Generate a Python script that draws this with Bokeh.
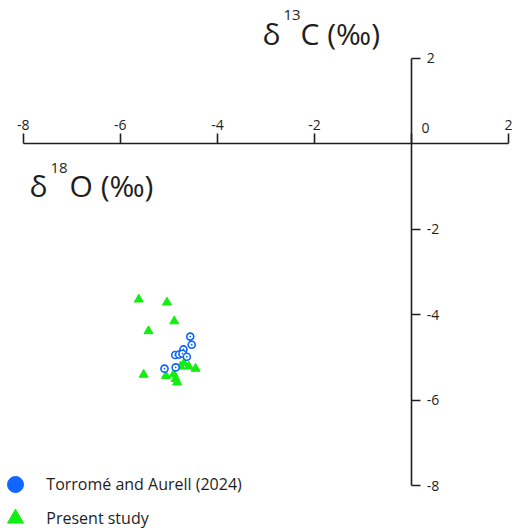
from bokeh.plotting import figure
from bokeh.models import LinearAxis, FixedTicker, Range1d, Label, Legend, LegendItem
from bokeh.embed import file_html
from bokeh.resources import INLINE

# ---- data ----
x_ticks = [-8, -6, -4, -2, 0, 2]
y_ticks = [2, -2, -4, -6, -8]

torrome_o = [-4.56, -4.53, -4.70, -4.87, -4.79, -4.72, -4.63, -5.09, -4.86]
torrome_c = [-4.51, -4.70, -4.81, -4.94, -4.93, -4.91, -4.98, -5.26, -5.23]

present_o = [-5.62, -5.04, -4.89, -5.42, -5.52, -5.06, -4.90, -4.86, -4.83, -4.69, -4.59, -4.45, -4.76]
present_c = [-3.64, -3.71, -4.15, -4.38, -5.40, -5.43, -5.39, -5.50, -5.58, -5.13, -5.21, -5.26, -5.21]

series_labels = ["Torromé and Aurell (2024)", "Present study"]

BLUE = "#1166ff"
GREEN = "#11ee11"
INK = "#1e1e1e"
FONT = "Open Sans"

W, H = 512, 528
p = figure(width=W, height=H, output_backend="svg", toolbar_location=None,
           x_range=Range1d(-8.4675, 2.0762), y_range=Range1d(-8.999, 3.352),
           x_axis_location=None, y_axis_location=None, min_border=0,
           outline_line_color=None)
p.grid.visible = False

xax = LinearAxis(fixed_location=0, ticker=FixedTicker(ticks=x_ticks), bounds=(-8, 2),
                 major_tick_in=0, major_tick_out=10, minor_tick_in=0, minor_tick_out=0,
                 axis_line_width=1.6, axis_line_color=INK,
                 major_tick_line_width=1.6, major_tick_line_color=INK,
                 major_label_standoff=4, major_label_text_font=FONT,
                 major_label_text_font_size="14px", major_label_text_color=INK,
                 major_label_overrides={t: ("" if t == 0 else str(t)) for t in x_ticks})
p.add_layout(xax, "above")

yax = LinearAxis(fixed_location=0, ticker=FixedTicker(ticks=y_ticks), bounds=(-8, 2),
                 major_tick_in=0, major_tick_out=9, minor_tick_in=0, minor_tick_out=0,
                 axis_line_width=1.6, axis_line_color=INK,
                 major_tick_line_width=1.6, major_tick_line_color=INK,
                 major_label_standoff=6, major_label_text_font=FONT,
                 major_label_text_font_size="14px", major_label_text_color=INK,
                 major_label_overrides={t: str(t) for t in y_ticks})
p.add_layout(yax, "right")

# data marks
r_present = p.scatter(present_o, present_c, marker="triangle", size=9,
                      fill_color=GREEN, line_color=GREEN)
r_torrome = p.scatter(torrome_o, torrome_c, marker="circle", size=7,
                      fill_color=BLUE, line_color=BLUE)
p.scatter(torrome_o, torrome_c, marker="circle_dot", size=7,
          fill_color="white", line_color=BLUE, line_width=1.6)

for lab, rend, yb in [(series_labels[0], r_torrome, 24), (series_labels[1], r_present, -10)]:
    leg = Legend(items=[LegendItem(label=lab, renderers=[rend])], location=(-4.7, yb),
                 glyph_width=40, glyph_height=40, label_standoff=11, padding=0, margin=0,
                 border_line_color=None, background_fill_alpha=0,
                 label_text_font=FONT, label_text_font_size="16px", label_text_color=INK)
    p.add_layout(leg)

def lab(x, y, t, size):
    p.add_layout(Label(x=x, y=y, x_units="screen", y_units="screen", text=t,
                       text_font=FONT, text_font_size=size, text_color=INK,
                       text_baseline="alphabetic", text_align="left"))

# axis titles
lab(262, 495, "δ", "30px")
lab(283, 514, "13", "15px")
lab(300, 495, "C (‰)", "30px")

lab(29, 343, "δ", "30px")
lab(50, 361, "18", "15px")
lab(69, 343, "O (‰)", "30px")

# origin label
lab(421, 401, "0", "14px")

open("out.html", "w").write(file_html(p, INLINE))
